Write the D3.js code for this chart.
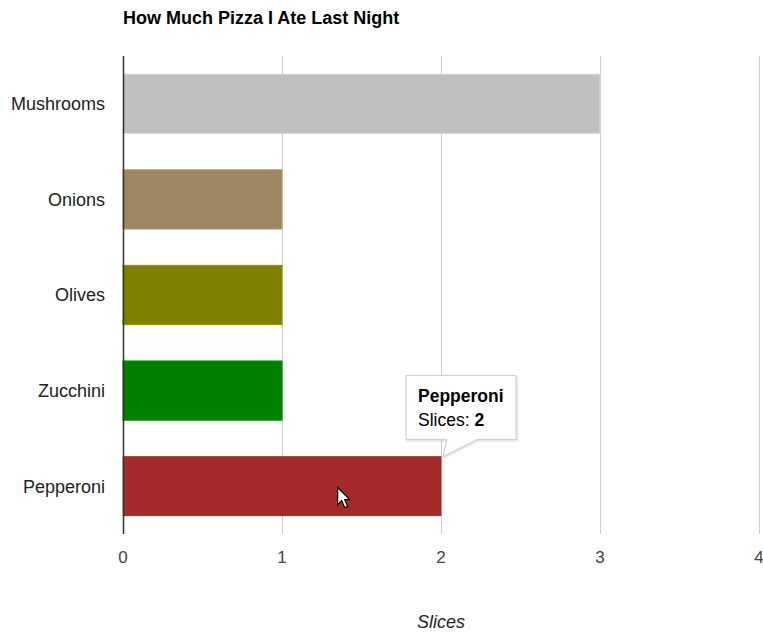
<!DOCTYPE html>
<html>
<head>
<meta charset="utf-8">
<script src="https://cdn.jsdelivr.net/npm/d3@7"></script>
<style>
  body { margin: 0; background: #fff; }
  text { font-family: "Liberation Sans", Arial, sans-serif; }
</style>
</head>
<body>
<div id="chart"></div>
<script>
var toppings = ["Mushrooms", "Onions", "Olives", "Zucchini", "Pepperoni"];
var slices = [3, 1, 1, 1, 2];
var barColors = ["#c0c0c0", "#9c8760", "#808000", "#008000", "#a52a2a"];
var xTicks = [0, 1, 2, 3, 4];

var data = toppings.map(function(t, i) {
  return {name: t, value: slices[i], color: barColors[i]};
});

var svg = d3.select("#chart").append("svg")
    .attr("width", 763)
    .attr("height", 632),
    margin = {top: 56, right: 4, bottom: 98, left: 123},
    width = 763 - margin.left - margin.right,
    height = 632 - margin.top - margin.bottom,
    g = svg.append("g").attr("transform", "translate(" + margin.left + "," + margin.top + ")");

var x = d3.scaleLinear().domain([0, 4]).range([0, 636]);
var y = d3.scaleBand().domain(toppings).range([0, height]).paddingInner(0.38).paddingOuter(0.19);

// title
svg.append("text")
    .attr("x", 123)
    .attr("y", 24)
    .attr("font-size", 18)
    .attr("font-weight", "bold")
    .attr("fill", "#000")
    .text("How Much Pizza I Ate Last Night");

// gridlines
g.selectAll(".grid")
    .data(xTicks.slice(1))
  .enter().append("line")
    .attr("x1", function(d) { return x(d) + 0.5; })
    .attr("x2", function(d) { return x(d) + 0.5; })
    .attr("y1", 0)
    .attr("y2", height)
    .attr("stroke", "#cccccc")
    .attr("stroke-width", 1);

// bars
g.selectAll(".bar")
    .data(data)
  .enter().append("rect")
    .attr("x", x(0))
    .attr("y", function(d) { return y(d.name); })
    .attr("width", function(d) { return x(d.value) - x(0); })
    .attr("height", y.bandwidth())
    .attr("fill", function(d) { return d.color; })
    .attr("stroke", function(d) { return d.name == "Pepperoni" ? "#7a1f1f" : d3.color(d.color).brighter(0.4); })
    .attr("stroke-width", function(d) { return d.name == "Pepperoni" ? 0.6 : 1; });

// baseline
g.append("line")
    .attr("x1", 0.5).attr("x2", 0.5)
    .attr("y1", 0).attr("y2", height)
    .attr("stroke", "#333333")
    .attr("stroke-width", 1.5);

// y labels
g.selectAll(".ylab")
    .data(toppings)
  .enter().append("text")
    .attr("x", -18)
    .attr("y", function(d) { return y(d) + y.bandwidth() / 2; })
    .attr("dy", "0.36em")
    .attr("text-anchor", "end")
    .attr("font-size", 18)
    .attr("fill", "#222")
    .text(function(d) { return d; });

// x tick labels
g.selectAll(".xlab")
    .data(xTicks)
  .enter().append("text")
    .attr("x", function(d) { return x(d); })
    .attr("y", height + 29)
    .attr("text-anchor", "middle")
    .attr("font-size", 17)
    .attr("fill", "#444")
    .text(function(d) { return d; });

// axis title
svg.append("text")
    .attr("x", margin.left + x(2))
    .attr("y", 628)
    .attr("text-anchor", "middle")
    .attr("font-size", 18)
    .attr("font-style", "italic")
    .attr("fill", "#222")
    .text("Slices");

// tooltip for pepperoni
var pep = data[4];
var tipX = x(pep.value), tipY = y(pep.name);
var tip = g.append("g");
tip.append("path")
    .attr("d", "M" + (tipX - 35) + "," + (tipY - 81) +
               " h110 v64 h-39 l-34,17 l4,-17 h-41 z")
    .attr("fill", "#fff")
    .attr("stroke", "#cccccc")
    .attr("stroke-width", 1)
    .style("filter", "drop-shadow(1px 1px 1px rgba(0,0,0,0.15))");
tip.append("text")
    .attr("x", tipX - 23)
    .attr("y", tipY - 55)
    .attr("font-size", 17.5)
    .attr("font-weight", "bold")
    .attr("fill", "#000")
    .text(pep.name);
var t2 = tip.append("text")
    .attr("x", tipX - 23)
    .attr("y", tipY - 31)
    .attr("font-size", 17.5)
    .attr("fill", "#000");
t2.append("tspan").text("Slices: ");
t2.append("tspan").attr("font-weight", "bold").text(pep.value);

// mouse cursor
g.append("path")
    .attr("transform", "translate(" + (x(1.35)) + "," + (tipY + 31) + ")")
    .attr("d", "M0,0 L0,17 L4,13 L7,20 L10,19 L7,12 L12,12 Z")
    .attr("fill", "#fff")
    .attr("stroke", "#000")
    .attr("stroke-width", 1.2);
</script>
</body>
</html>
